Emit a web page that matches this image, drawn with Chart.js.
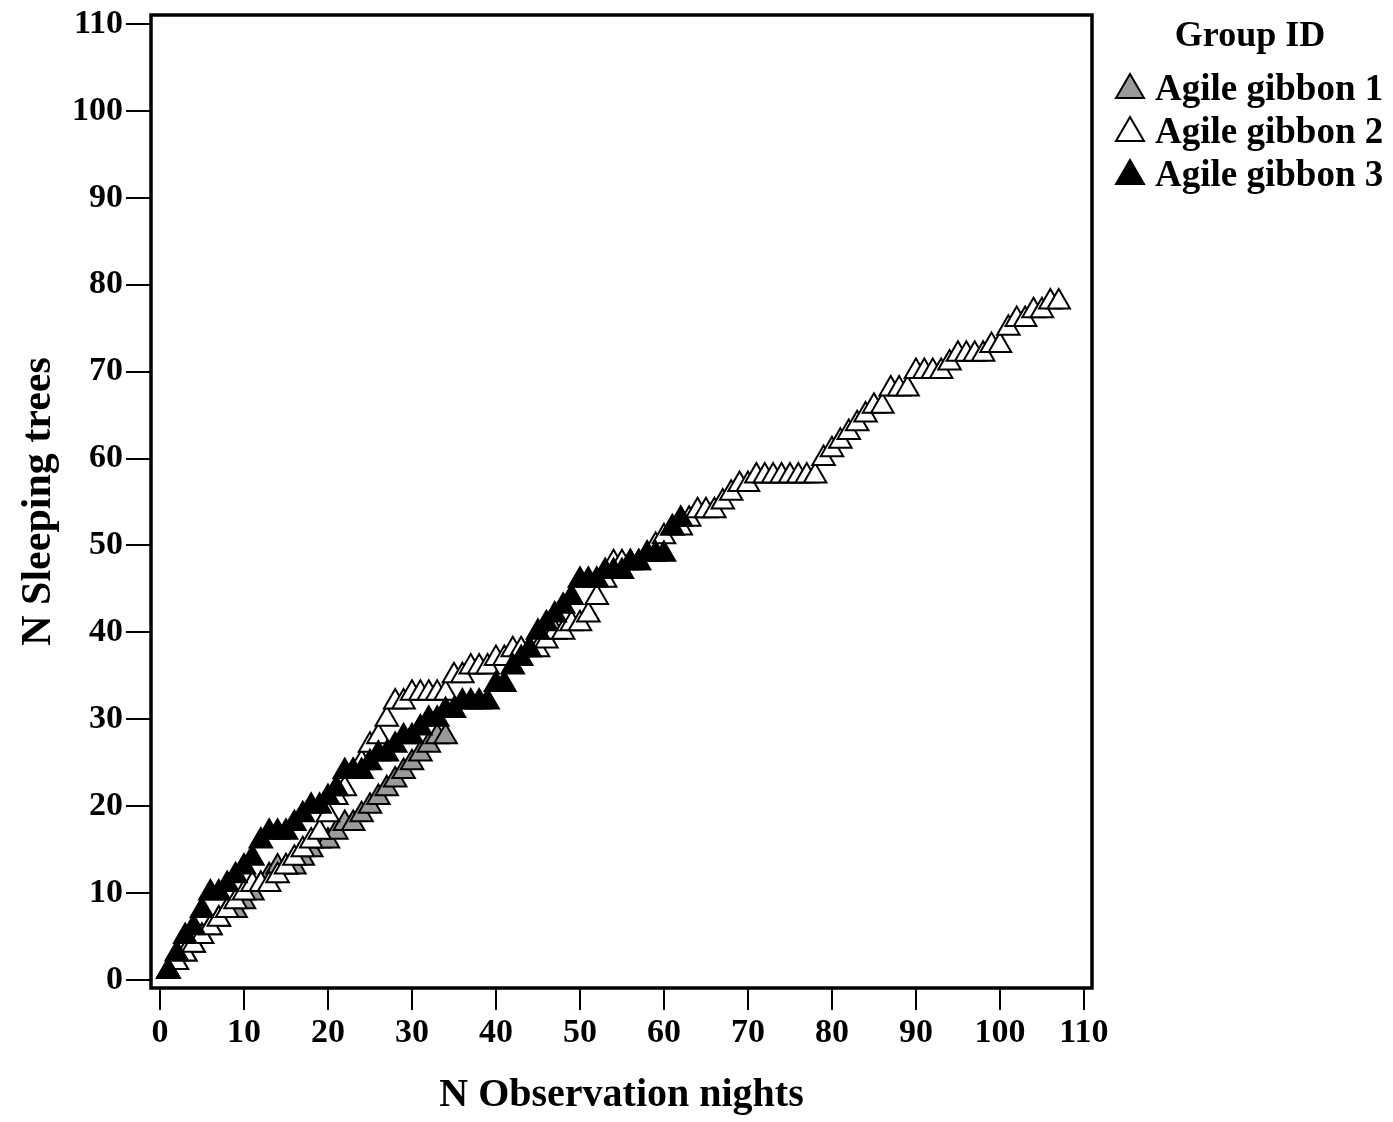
<!DOCTYPE html>
<html>
<head>
<meta charset="utf-8">
<script src="https://cdn.jsdelivr.net/npm/chart.js@4.4.1/dist/chart.umd.min.js"></script>
<style>
html,body{margin:0;padding:0;background:#ffffff;}
#wrap{width:1393px;height:1122px;position:relative;}
</style>
</head>
<body>
<div id="wrap"><canvas id="c" width="1393" height="1122"></canvas></div>
<script>
// ---- data ----
const seriesNames = ['Agile gibbon 1', 'Agile gibbon 2', 'Agile gibbon 3'];
const legendTitle = 'Group ID';
const xTitle = 'N Observation nights';
const yTitle = 'N Sleeping trees';
const xTicks = [0, 10, 20, 30, 40, 50, 60, 70, 80, 90, 100, 110];
const yTicks = [0, 10, 20, 30, 40, 50, 60, 70, 80, 90, 100, 110];

const nightsG1 = [1,2,3,4,5,6,7,8,9,10,11,12,13,14,15,16,17,18,19,20,21,22,23,24,25,26,27,28,29,30,31,32,33,34];
const treesG1  = [1,2,3,4,5,6,7,8,8,9,10,11,12,13,13,13,14,15,16,16,17,18,18,19,20,21,22,23,24,25,26,27,28,28];

const nightsG2 = [1,2,3,4,5,6,7,8,9,10,11,12,13,14,15,16,17,18,19,20,
  21,22,23,24,25,26,27,28,29,30,31,32,33,34,35,36,37,38,39,40,
  41,42,43,44,45,46,47,48,49,50,51,52,53,54,55,56,57,58,59,60,
  61,62,63,64,65,66,67,68,69,70,71,72,73,74,75,76,77,78,79,80,
  81,82,83,84,85,86,87,88,89,90,91,92,93,94,95,96,97,98,99,100,
  101,102,103,104,105,106,107];
const treesG2  = [1,2,3,4,5,6,7,8,9,10,11,11,11,12,13,14,15,16,17,19,
  21,22,24,25,27,28,30,32,32,33,33,33,33,33,35,35,36,36,36,37,
  37,38,38,38,38,39,40,40,41,41,42,44,46,48,48,48,48,49,50,51,
  52,52,53,54,54,54,55,56,57,57,58,58,58,58,58,58,58,58,60,61,
  62,63,64,65,66,66,68,68,68,70,70,70,70,71,72,72,72,72,73,73,
  75,76,76,77,77,78,78];

const nightsG3 = [1,2,3,4,5,6,7,8,9,10,11,12,13,14,15,16,17,18,19,20,
  21,22,23,24,25,26,27,28,29,30,31,32,33,34,35,36,37,38,39,40,
  41,42,43,44,45,46,47,48,49,50,51,52,53,54,55,56,57,58,59,60,61,62];
const treesG3  = [1,3,5,6,8,10,10,11,12,13,14,16,17,17,17,18,19,20,20,21,
  22,24,24,24,25,26,26,27,28,28,29,30,30,31,31,32,32,32,32,34,
  34,36,37,38,40,41,42,43,44,46,46,46,47,47,47,48,48,49,49,49,52,53];

const fills = ['#9a9a9a', '#ffffff', '#000000'];

function pts(xs, ys) { return xs.map((x, i) => ({x: x, y: ys[i]})); }

const FONT = "'Liberation Serif', 'Times New Roman', serif";

const framePlugin = {
  id: 'frame',
  afterDraw(chart) {
    const {ctx, chartArea: a} = chart;
    ctx.save();
    ctx.strokeStyle = '#000';
    ctx.lineWidth = 3.5;
    ctx.strokeRect(a.left, a.top, a.right - a.left, a.bottom - a.top);
    ctx.restore();
  }
};

const legendPlugin = {
  id: 'customLegend',
  afterDraw(chart) {
    const ctx = chart.ctx;
    ctx.save();
    ctx.fillStyle = '#000';
    ctx.font = 'bold 36px ' + FONT;
    ctx.textAlign = 'center';
    ctx.textBaseline = 'alphabetic';
    ctx.fillText(legendTitle, 1250, 46);
    const ys = [86, 129, 172];
    ctx.textAlign = 'left';
    ctx.font = 'bold 37px ' + FONT;
    seriesNames.forEach((name, i) => {
      const cx = 1130, cy = ys[i];
      const w = 28, h = 24;
      ctx.beginPath();
      ctx.moveTo(cx, cy - h / 2);
      ctx.lineTo(cx + w / 2, cy + h / 2);
      ctx.lineTo(cx - w / 2, cy + h / 2);
      ctx.closePath();
      ctx.fillStyle = fills[i];
      ctx.fill();
      ctx.lineWidth = 2;
      ctx.strokeStyle = '#000';
      ctx.stroke();
      ctx.fillStyle = '#000';
      ctx.fillText(name, 1155, cy + 14);
    });
    ctx.restore();
  }
};

function ds(label, xs, ys, i, order) {
  return {
    label: label,
    data: pts(xs, ys),
    showLine: false,
    pointStyle: 'triangle',
    pointRadius: 13,
    pointHoverRadius: 13,
    pointBackgroundColor: fills[i],
    pointBorderColor: '#000',
    pointBorderWidth: 2,
    order: order
  };
}

new Chart(document.getElementById('c'), {
  type: 'scatter',
  data: {
    datasets: [
      ds(seriesNames[0], nightsG1, treesG1, 0, 3),
      ds(seriesNames[1], nightsG2, treesG2, 1, 2),
      ds(seriesNames[2], nightsG3, treesG3, 2, 1)
    ]
  },
  options: {
    responsive: false,
    animation: false,
    devicePixelRatio: 1,
    layout: { padding: { top: 10, right: 301, left: 0, bottom: 0 } },
    plugins: { legend: { display: false }, tooltip: { enabled: false } },
    scales: {
      x: {
        type: 'linear',
        min: -1.07,
        max: 110.96,
        afterBuildTicks(scale) { scale.ticks = xTicks.map(v => ({value: v})); },
        afterFit(scale) { scale.height = 134; scale.paddingLeft = 0; scale.paddingRight = 0; },
        grid: { display: true, drawOnChartArea: false, drawTicks: true, tickLength: 22, color: '#000', lineWidth: 2 },
        border: { display: false },
        ticks: { color: '#000', font: { family: FONT, size: 34, weight: 'bold' }, padding: 3, maxRotation: 0, autoSkip: false },
        title: { display: true, text: xTitle, color: '#000', font: { family: FONT, size: 40, weight: 'bold' }, padding: { top: 0, bottom: 2 } }
      },
      y: {
        type: 'linear',
        min: -0.92,
        max: 111.03,
        afterBuildTicks(scale) { scale.ticks = yTicks.map(v => ({value: v})); },
        afterFit(scale) { scale.width = 151; scale.paddingTop = 0; scale.paddingBottom = 0; },
        grid: { display: true, drawOnChartArea: false, drawTicks: true, tickLength: 25, color: '#000', lineWidth: 2 },
        border: { display: false },
        ticks: { color: '#000', font: { family: FONT, size: 34, weight: 'bold' }, padding: 3, autoSkip: false },
        title: { display: true, text: yTitle, color: '#000', font: { family: FONT, size: 42, weight: 'bold' }, padding: { top: 14, bottom: 0 } }
      }
    }
  },
  plugins: [framePlugin, legendPlugin]
});
</script>
</body>
</html>
